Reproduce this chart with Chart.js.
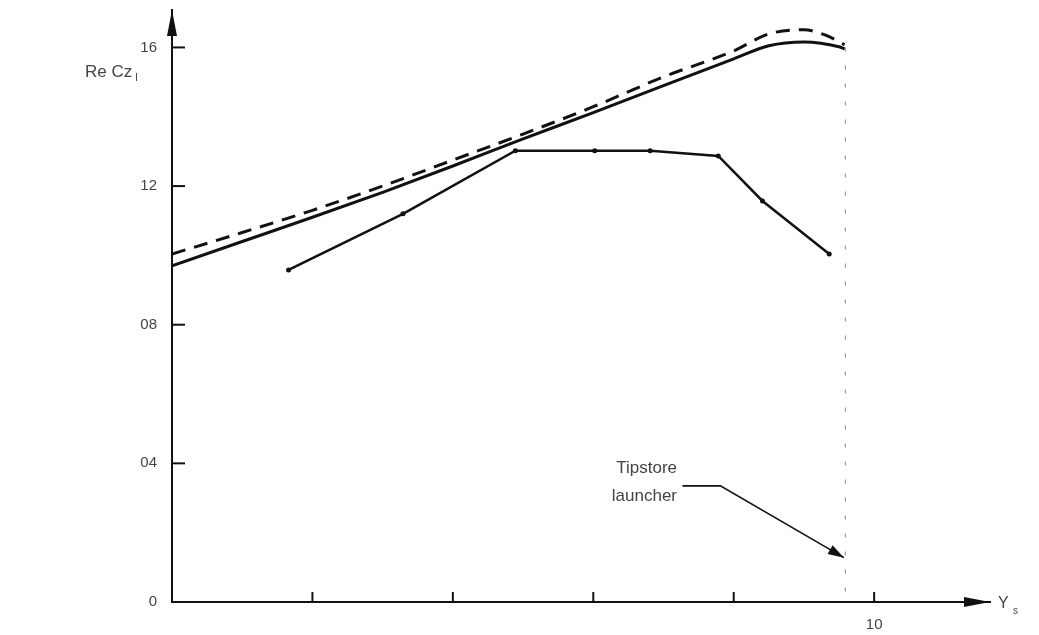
<!DOCTYPE html>
<html>
<head>
<meta charset="utf-8">
<script src="https://cdn.jsdelivr.net/npm/chart.js@4.4.1/dist/chart.umd.min.js"></script>
<style>
  html, body { margin: 0; background: #fff; }
  #wrap { width: 1039px; height: 635px; }
</style>
</head>
<body>
<div id="wrap"><canvas id="chart"></canvas></div>
<script>
// spanwise station (x) and Re Cz values
const spanSolid   = [0, 0.1, 0.2, 0.3, 0.4, 0.5, 0.6, 0.7, 0.8, 0.85, 0.9, 0.95, 0.958]
const czSolid     = [0.970, 1.040, 1.110, 1.182, 1.258, 1.336, 1.412, 1.490, 1.567, 1.605, 1.616, 1.602, 1.596]
const spanDashed  = [0, 0.1, 0.2, 0.3, 0.4, 0.5, 0.6, 0.7, 0.8, 0.85, 0.9, 0.93, 0.958]
const czDashed    = [1.004, 1.066, 1.130, 1.200, 1.275, 1.350, 1.429, 1.515, 1.590, 1.639, 1.651, 1.636, 1.608]
const spanMarked  = [0.166, 0.329, 0.489, 0.602, 0.681, 0.778, 0.841, 0.936]
const czMarked    = [0.958, 1.120, 1.302, 1.302, 1.302, 1.287, 1.157, 1.004]

// tip station (vertical dotted line)
const tipSpan  = [0.959, 0.959]
const tipRange = [0.03, 1.62]

// ticks
const yTicks      = [0, 0.4, 0.8, 1.2, 1.6]
const yTickLabels = ['0', '04', '08', '12', '16']
const xTicks      = [0.2, 0.4, 0.6, 0.8, 1.0]
const xTickLabels = ['', '', '', '', '10']

// annotation leader, in data units
const leaderX = [0.727, 0.781, 0.957]
const leaderY = [0.335, 0.335, 0.128]

const toPts = (xs, ys) => xs.map((x, i) => ({ x, y: ys[i] }))

const INK = '#111'
const TEXT = '#444'

// arrows, inward tick marks, axis titles and the annotation
const decor = {
  id: 'decor',
  afterDraw(chart) {
    const { ctx, chartArea: a, scales: { x, y } } = chart
    ctx.save()
    ctx.fillStyle = INK
    ctx.strokeStyle = INK

    // axis arrowheads
    ctx.beginPath()
    ctx.moveTo(a.left, a.top)
    ctx.lineTo(a.left - 5, a.top + 26)
    ctx.lineTo(a.left + 5, a.top + 26)
    ctx.closePath()
    ctx.fill()
    ctx.beginPath()
    ctx.moveTo(a.right, a.bottom)
    ctx.lineTo(a.right - 26, a.bottom - 5)
    ctx.lineTo(a.right - 26, a.bottom + 5)
    ctx.closePath()
    ctx.fill()

    // inward ticks
    ctx.lineWidth = 2
    yTicks.slice(1).forEach(v => {
      const py = y.getPixelForValue(v)
      ctx.beginPath()
      ctx.moveTo(a.left, py)
      ctx.lineTo(a.left + 13, py)
      ctx.stroke()
    })
    xTicks.forEach(v => {
      const px = x.getPixelForValue(v)
      ctx.beginPath()
      ctx.moveTo(px, a.bottom)
      ctx.lineTo(px, a.bottom - 10)
      ctx.stroke()
    })

    // axis titles
    ctx.fillStyle = TEXT
    ctx.textBaseline = 'middle'
    ctx.textAlign = 'left'
    ctx.font = '17px "Liberation Sans"'
    ctx.fillText('Re Cz', 85, 72)
    const wCz = ctx.measureText('Re Cz').width
    ctx.font = '11px "Liberation Sans"'
    ctx.fillText('l', 85 + wCz + 3, 78)
    ctx.font = '16px "Liberation Sans"'
    ctx.fillText('Y', 998, 604)
    ctx.font = '10px "Liberation Sans"'
    ctx.fillText('s', 1013, 611)

    // annotation text
    ctx.font = '17px "Liberation Sans"'
    ctx.textAlign = 'right'
    ctx.fillText('Tipstore', 677, 468)
    ctx.fillText('launcher', 677, 496)

    // leader with arrowhead
    ctx.strokeStyle = INK
    ctx.fillStyle = INK
    ctx.lineWidth = 1.6
    const pts = leaderX.map((v, i) => [x.getPixelForValue(v), y.getPixelForValue(leaderY[i])])
    ctx.beginPath()
    pts.forEach(([px, py], i) => i ? ctx.lineTo(px, py) : ctx.moveTo(px, py))
    ctx.stroke()
    const [x1, y1] = pts[pts.length - 2]
    const [x2, y2] = pts[pts.length - 1]
    const ang = Math.atan2(y2 - y1, x2 - x1)
    ctx.translate(x2, y2)
    ctx.rotate(ang)
    ctx.beginPath()
    ctx.moveTo(0, 0)
    ctx.lineTo(-16, -5)
    ctx.lineTo(-16, 5)
    ctx.closePath()
    ctx.fill()
    ctx.restore()
  },
}

Chart.defaults.font.family = '"Liberation Sans", sans-serif'
Chart.defaults.font.size = 15
Chart.defaults.color = TEXT

new Chart(document.getElementById('chart'), {
  type: 'scatter',
  data: {
    datasets: [
      {
        data: toPts(spanDashed, czDashed),
        showLine: true,
        borderColor: INK,
        borderWidth: 3,
        borderDash: [14, 9],
        cubicInterpolationMode: 'monotone',
        pointRadius: 0,
      },
      {
        data: toPts(spanSolid, czSolid),
        showLine: true,
        borderColor: INK,
        borderWidth: 3,
        cubicInterpolationMode: 'monotone',
        pointRadius: 0,
      },
      {
        data: toPts(spanMarked, czMarked),
        showLine: true,
        borderColor: INK,
        borderWidth: 2.5,
        pointRadius: 2.5,
        pointBackgroundColor: INK,
        pointBorderWidth: 0,
      },
      {
        data: toPts(tipSpan, tipRange),
        showLine: true,
        borderColor: '#999',
        borderWidth: 1.2,
        borderDash: [4, 14],
        pointRadius: 0,
      },
    ],
  },
  options: {
    responsive: true,
    maintainAspectRatio: false,
    animation: false,
    events: [],
    layout: { padding: { left: 0, right: 49, top: 10, bottom: 0 } },
    plugins: {
      legend: { display: false },
      tooltip: { enabled: false },
    },
    scales: {
      x: {
        type: 'linear',
        min: 0,
        max: 1.165,
        afterBuildTicks: s => { s.ticks = xTicks.map(v => ({ value: v })) },
        afterFit: s => {
          s.height = 33
          s.paddingLeft = 0
          s.paddingRight = 0
        },
        grid: { display: false },
        border: { display: true, color: INK, width: 2 },
        ticks: {
          padding: 6,
          maxRotation: 0,
          autoSkip: false,
          callback: (v, i) => xTickLabels[i],
        },
      },
      y: {
        type: 'linear',
        min: 0,
        max: 1.708,
        afterBuildTicks: s => { s.ticks = yTicks.map(v => ({ value: v })) },
        afterFit: s => {
          s.width = 172
          s.paddingTop = 0
          s.paddingBottom = 0
        },
        grid: { display: false },
        border: { display: true, color: INK, width: 2 },
        ticks: {
          padding: 7,
          autoSkip: false,
          callback: (v, i) => yTickLabels[i],
        },
      },
    },
  },
  plugins: [decor],
})
</script>
</body>
</html>
